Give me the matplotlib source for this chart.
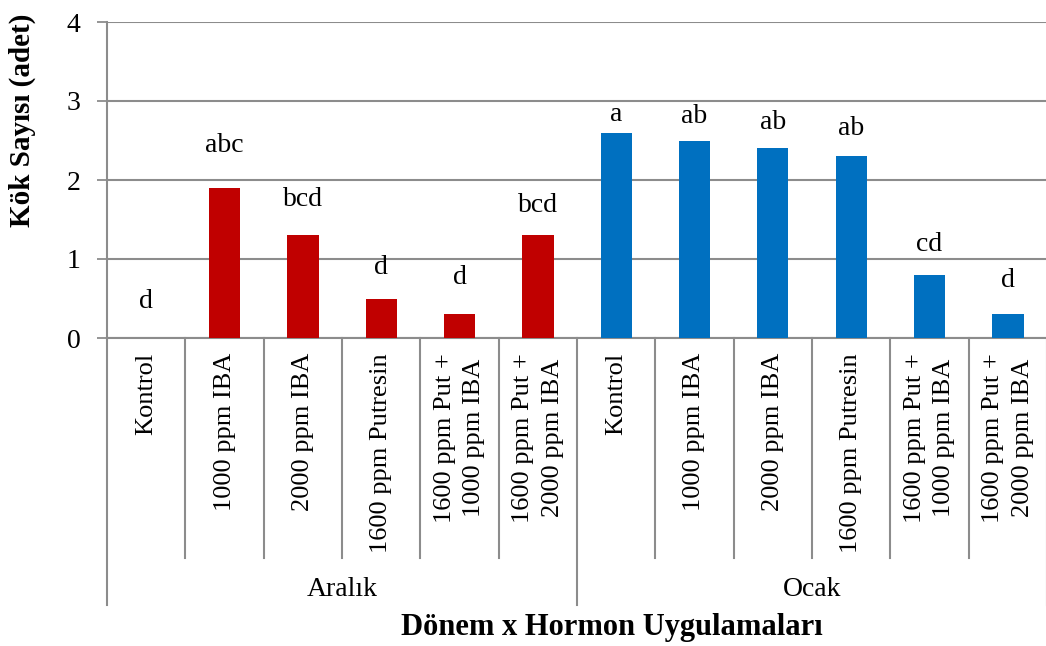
import matplotlib
matplotlib.use("Agg")
import matplotlib.pyplot as plt
import matplotlib.transforms as mtransforms

# ------------------------------------
# Data
# ------------------------------------
groups = ["Aralık", "Ocak"]
treatments = ["Kontrol", "1000 ppm IBA", "2000 ppm IBA", "1600 ppm Putresin",
              "1600 ppm Put +\n1000 ppm IBA", "1600 ppm Put +\n2000 ppm IBA"]
aralik_values = [0.0, 1.9, 1.3, 0.5, 0.3, 1.3]
ocak_values = [2.6, 2.5, 2.4, 2.3, 0.8, 0.3]
aralik_letters = ["d", "abc", "bcd", "d", "d", "bcd"]
ocak_letters = ["a", "ab", "ab", "ab", "cd", "d"]

# letter offsets above bars (data units)
aralik_offsets = [0.46, 0.54, 0.45, 0.39, 0.47, 0.38]
ocak_offsets = [0.23, 0.30, 0.33, 0.35, 0.38, 0.43]

RED = "#C00000"
BLUE = "#0070C0"
GRID = "#8C8C8C"

plt.rcParams["font.family"] = ["Liberation Serif", "DejaVu Serif"]

fig = plt.figure(figsize=(10.46, 6.46), dpi=100)
ax = fig.add_axes([107 / 1046, 308 / 646, 940 / 1046, 316 / 646])

n = len(treatments)
x_ar = list(range(n))
x_oc = [i + n for i in range(n)]

ax.bar(x_ar, aralik_values, width=0.4, color=RED, zorder=3)
ax.bar(x_oc, ocak_values, width=0.4, color=BLUE, zorder=3)

for x, v, lab, off in zip(x_ar, aralik_values, aralik_letters, aralik_offsets):
    ax.text(x, v + off, lab, ha="center", va="center", fontsize=20)
for x, v, lab, off in zip(x_oc, ocak_values, ocak_letters, ocak_offsets):
    ax.text(x, v + off, lab, ha="center", va="center", fontsize=20)

ax.set_xlim(-0.5, 2 * n - 0.5)
ax.set_ylim(0, 4)
ax.set_yticks([0, 1, 2, 3, 4])
ax.tick_params(axis="y", labelsize=20, length=7, width=1.3, color=GRID, pad=12)
ax.set_xticks([])
ax.yaxis.grid(True, color=GRID, linewidth=1.5, zorder=0)
for s in ["top", "right"]:
    ax.spines[s].set_visible(False)
ax.spines["left"].set_color(GRID)
ax.spines["left"].set_linewidth(1.5)
ax.spines["bottom"].set_color(GRID)
ax.spines["bottom"].set_linewidth(1.5)

# category separators and tick labels
trans = mtransforms.blended_transform_factory(ax.transData, ax.transAxes)
px = 1 / 316
inner_bottom = -220 * px
outer_bottom = -267 * px
for i in range(2 * n + 1):
    xb = i - 0.5
    yb = outer_bottom if i % n == 0 else inner_bottom
    ax.plot([xb, xb], [0, yb], color=GRID, lw=1.5, transform=trans, clip_on=False)

all_labels = treatments + treatments
for i, lab in enumerate(all_labels):
    ax.text(i, -15 * px, lab, rotation=90, ha="center", va="top",
            multialignment="center", fontsize=19, linespacing=1.45,
            transform=trans)

for g, name in enumerate(groups):
    ax.text(g * n + (n - 1) / 2, -252 * px, name, ha="center", va="center",
            fontsize=20, transform=trans)

fig.text(612 / 1046, (646 - 628) / 646, "Dönem x Hormon Uygulamaları",
         ha="center", va="center", fontsize=22, fontweight="bold")
fig.text(22 / 1046, (646 - 120) / 646, "Kök Sayısı (adet)", rotation=90,
         ha="center", va="center", fontsize=21, fontweight="bold")

fig.savefig("out.png", dpi=100)
